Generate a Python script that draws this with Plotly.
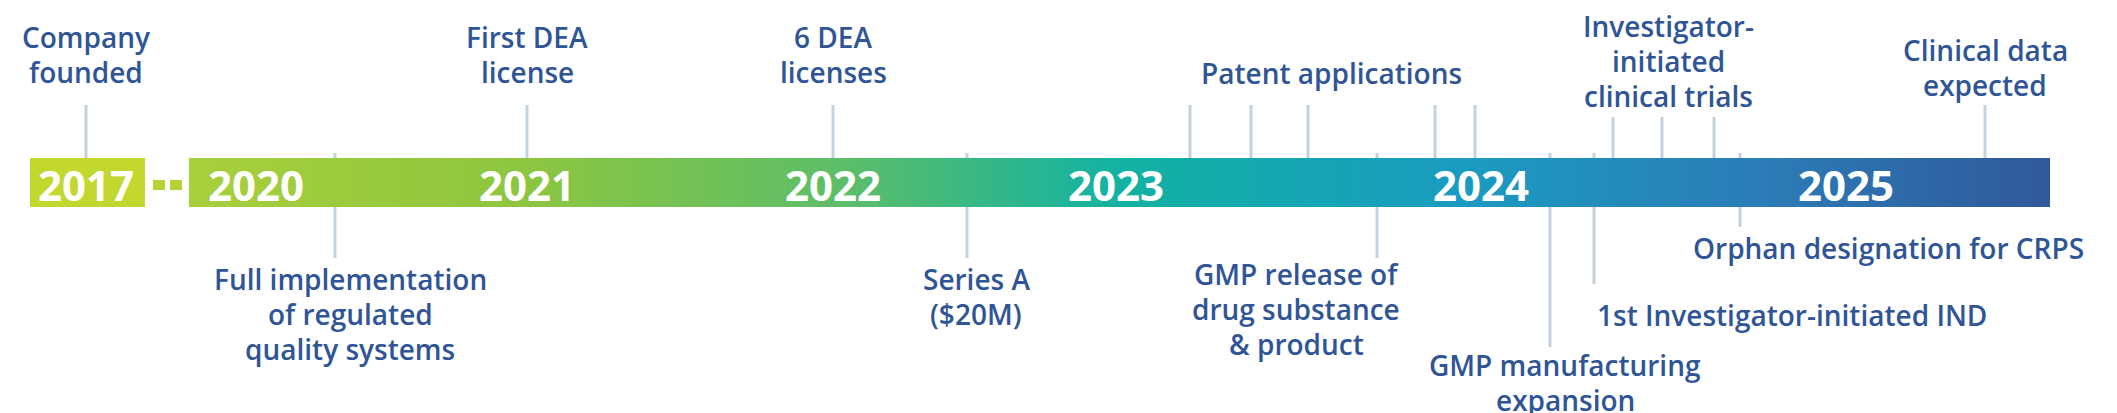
import plotly.graph_objects as go
import numpy as np

W, H = 2117, 413
# Year labels along the timeline (timeline position in px units)
year_labels = ["2020", "2021", "2022", "2023", "2024", "2025"]
year_pos = [248, 519, 825, 1108, 1473, 1838]
start_year = "2017"
start_pos = 78

# Milestones
top_labels = ["Company<br>founded", "First DEA<br>license", "6 DEA<br>licenses",
              "Patent applications", "Investigator-<br>initiated<br>clinical trials",
              "Clinical data<br>expected"]
top_text_x = [78, 519, 825, 1323, 1660, 1977]
top_text_y = [46, 46, 46, 65, 53, 59]
top_ticks = [[78], [519], [825], [1182, 1243, 1300, 1427, 1467], [1605, 1654, 1706], [1977]]
top_tick_end = [97, 97, 97, 97, 109, 97]

bot_labels = ["Full implementation<br>of regulated<br>quality systems", "Series A<br>($20M)",
              "GMP release of<br>drug substance<br>& product", "GMP manufacturing<br>expansion",
              "1st Investigator-initiated IND", "Orphan designation for CRPS"]
bot_text_x = [342, 968, 1288, 1557, 1784, 1880]
bot_text_y = [306, 288, 301, 374, 307, 240]
bot_ticks = [327, 959, 1369, 1542, 1586, 1732]
bot_tick_end = [250, 250, 250, 339, 276, 219]

bar_x0, bar_x1, bar_y0, bar_y1 = 181, 2042, 150, 199
grad_stops = [(0.0, "#A9CF3B"), (0.18, "#8DC640"), (0.35, "#5DBE68"), (0.5, "#12B2A3"),
              (0.68, "#1A9CC0"), (0.84, "#2B7DB8"), (1.0, "#30589A")]

BLUE = "#2F5596"
LINE = "#C3D2DC"
FONT = "Open Sans"
LINE_GAP = 35

fig = go.Figure()
edges = np.linspace(bar_x0, bar_x1, 401)
mids = (edges[:-1] + edges[1:]) / 2
fig.add_trace(go.Heatmap(x=edges, y=[bar_y0, bar_y1], z=[mids], colorscale=grad_stops,
                         zmin=bar_x0, zmax=bar_x1, showscale=False, hoverinfo="skip"))

shapes = []
shapes.append(dict(type="rect", x0=22, x1=137, y0=bar_y0, y1=bar_y1, fillcolor="#C3D82E", line_width=0, layer="below"))
shapes.append(dict(type="rect", x0=145, x1=157, y0=172, y1=182, fillcolor="#B6D335", line_width=0))
shapes.append(dict(type="rect", x0=162, x1=174, y0=172, y1=182, fillcolor="#B6D335", line_width=0))
for ticks, end in zip(top_ticks, top_tick_end):
    for t in ticks:
        shapes.append(dict(type="line", x0=t, x1=t, y0=end, y1=bar_y0, line=dict(color=LINE, width=3)))
for t, end in zip(bot_ticks, bot_tick_end):
    shapes.append(dict(type="line", x0=t, x1=t, y0=bar_y1, y1=end, line=dict(color=LINE, width=3)))
    shapes.append(dict(type="line", x0=t, x1=t, y0=bar_y0 - 5, y1=bar_y0, line=dict(color=LINE, width=3)))

ann = []
ann.append(dict(x=start_pos, y=176, text=start_year, font=dict(family=FONT, size=42, color="white", weight=700)))
for l, p in zip(year_labels, year_pos):
    ann.append(dict(x=p, y=176, text=l, font=dict(family=FONT, size=42, color="white", weight=700)))
for l, x, y in zip(top_labels + bot_labels, top_text_x + bot_text_x, top_text_y + bot_text_y):
    lines = l.split("<br>")
    n = len(lines)
    for i, s in enumerate(lines):
        ly = y + (i - (n - 1) / 2) * LINE_GAP
        ann.append(dict(x=x, y=ly, text=s, font=dict(family=FONT, size=28, color=BLUE, weight=600)))
for a in ann:
    a.update(xref="x", yref="y", showarrow=False, xanchor="center", yanchor="middle")

fig.update_layout(width=W, height=H, margin=dict(l=0, r=0, t=0, b=0),
                  paper_bgcolor="white", plot_bgcolor="white", shapes=shapes, annotations=ann,
                  xaxis=dict(range=[0, W], visible=False, fixedrange=True),
                  yaxis=dict(range=[H, 0], visible=False, fixedrange=True))
fig.write_html("out.html", config={"displayModeBar": False})
